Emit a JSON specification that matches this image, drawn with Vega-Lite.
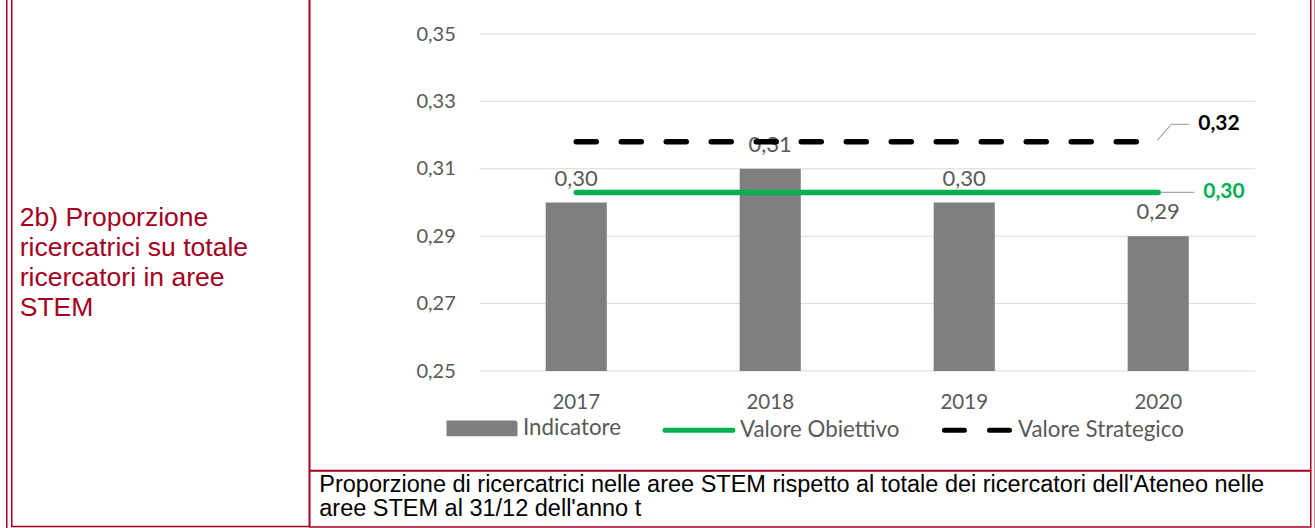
{
  "$schema": "https://vega.github.io/schema/vega-lite/v6.json",
  "padding": {"left": 6, "top": -2, "right": 0, "bottom": 0},
  "background": "white",
  "config": {
    "locale": {"number": {"decimal": ",", "thousands": ".", "grouping": [3], "currency": ["", " €"]}},
    "font": "Lato"
  },
  "datasets": {
    "bars": [
      {"year": "2017", "value": 0.30, "series": "Indicatore"},
      {"year": "2018", "value": 0.31, "series": "Indicatore"},
      {"year": "2019", "value": 0.30, "series": "Indicatore"},
      {"year": "2020", "value": 0.29, "series": "Indicatore"}
    ],
    "lines": [
      {"year": "2017", "value": 0.303, "series": "Valore Obiettivo"},
      {"year": "2018", "value": 0.303, "series": "Valore Obiettivo"},
      {"year": "2019", "value": 0.303, "series": "Valore Obiettivo"},
      {"year": "2020", "value": 0.303, "series": "Valore Obiettivo"},
      {"year": "2017", "value": 0.318, "series": "Valore Strategico"},
      {"year": "2018", "value": 0.318, "series": "Valore Strategico"},
      {"year": "2019", "value": 0.318, "series": "Valore Strategico"},
      {"year": "2020", "value": 0.318, "series": "Valore Strategico"}
    ],
    "grid": [{"g": 0.25}, {"g": 0.27}, {"g": 0.29}, {"g": 0.31}, {"g": 0.33}, {"g": 0.35}]
  },
  "bounds": "full",
  "spacing": 2.75,
  "hconcat": [
    {
      "width": 1.5,
      "height": 545,
      "view": {"fill": "#A50021", "stroke": null},
      "data": {"values": [{"t": ""}]},
      "mark": {"type": "text"},
      "encoding": {"text": {"field": "t"}}
    },
    {
      "bounds": "flush",
      "spacing": 0,
      "hconcat": [
        {
          "width": 297.5,
          "height": 527.5,
          "view": {"stroke": "#A50021", "strokeWidth": 1.5, "fill": "white"},
          "data": {"values": [{"k": "a", "t": "2b) Proporzione\nricercatrici su totale\nricercatori in aree\nSTEM"}]},
          "mark": {"type": "text", "lineBreak": "\n", "align": "left", "baseline": "middle", "dy": -45, "font": "Liberation Sans", "fontSize": 26.5, "lineHeight": 30, "color": "#A50021"},
          "encoding": {
            "x": {"field": "k", "type": "nominal", "axis": null, "bandPosition": 0, "scale": {"type": "band", "paddingOuter": 0.0284, "paddingInner": 0}},
            "text": {"field": "t"}
          }
        },
        {
          "bounds": "flush",
          "spacing": 0,
          "vconcat": [
            {
              "width": 1001,
              "height": 471.5,
              "view": {"stroke": "#A50021", "strokeWidth": 1.5, "fill": "white"},
              "layer": [
                {
                  "data": {"name": "grid"},
                  "mark": {"type": "rule", "color": "#D9D9D9", "strokeWidth": 1},
                  "encoding": {
                    "y": {"field": "g", "type": "quantitative"},
                    "x": {"datum": "2017", "type": "ordinal", "bandPosition": 0},
                    "x2": {"datum": "2020", "bandPosition": 1}
                  }
                },
                {
                  "data": {"name": "bars"},
                  "mark": {"type": "bar", "width": {"band": 0.315}},
                  "encoding": {
                    "x": {
                      "field": "year", "type": "ordinal",
                      "scale": {"type": "band", "domain": ["2017", "2018", "2019", "2020"], "paddingInner": 0, "paddingOuter": 0.5799, "align": 0.7533},
                      "axis": {"title": null, "offset": -99.5, "domain": false, "ticks": false, "labelPadding": 31, "labelAngle": 0, "labelAlign": "center", "labelFont": "Lato", "labelFontSize": 20.5, "labelColor": "#595959"}
                    },
                    "y": {
                      "field": "value", "type": "quantitative",
                      "scale": {"domain": [0.220475, 0.360386], "nice": false, "zero": false},
                      "axis": {"title": null, "values": [0.25, 0.27, 0.29, 0.31, 0.33, 0.35], "format": ".2f", "offset": -169.5, "domain": false, "ticks": false, "grid": false, "labelPadding": 24, "labelFont": "Lato", "labelFontSize": 20, "labelColor": "#595959"}
                    },
                    "y2": {"datum": 0.25},
                    "color": {
                      "field": "series", "type": "nominal",
                      "scale": {"domain": ["Indicatore", "Valore Obiettivo", "Valore Strategico"], "range": ["#7F7F7F", "#00B050", "#000000"]},
                      "legend": {
                        "orient": "none", "legendX": 441, "legendY": 394, "direction": "horizontal", "title": null,
                        "labelFont": "Lato", "labelFontSize": 22.3, "labelColor": "#595959", "labelLimit": 400,
                        "symbolSize": 5329, "labelOffset": 6, "columnPadding": 34,
                        "encode": {
                          "symbols": {
                            "update": {
                              "shape": {"signal": "datum.value === 'Indicatore' ? 'M-1,-0.16H1V0.16H-1Z' : 'M-1,0H1'"},
                              "size": {"signal": "datum.value === 'Indicatore' ? 4356 : (datum.value === 'Valore Obiettivo' ? 4624 : 4225)"},
                              "fill": {"signal": "datum.value === 'Indicatore' ? '#7F7F7F' : 'transparent'"},
                              "stroke": {"signal": "datum.value === 'Indicatore' ? 'transparent' : (datum.value === 'Valore Obiettivo' ? '#00B050' : '#000000')"},
                              "strokeWidth": {"value": 5},
                              "strokeCap": {"value": "round"},
                              "strokeDash": {"signal": "datum.value === 'Valore Strategico' ? [20, 25] : [1, 0]"},
                              "opacity": {"value": 1}
                            }
                          }
                        }
                      }
                    }
                  }
                },
                {
                  "data": {"name": "bars"},
                  "mark": {"type": "text", "baseline": "alphabetic", "dy": -17, "font": "Lato", "fontSize": 22, "color": "#595959"},
                  "encoding": {
                    "x": {"field": "year", "type": "ordinal"},
                    "y": {"field": "value", "type": "quantitative"},
                    "text": {"field": "value", "type": "quantitative", "format": ".2f"}
                  }
                },
                {
                  "data": {"name": "lines"},
                  "transform": [{"filter": "datum.series === 'Valore Obiettivo'"}],
                  "mark": {"type": "line", "strokeWidth": 5.5, "strokeCap": "round"},
                  "encoding": {
                    "x": {"field": "year", "type": "ordinal"},
                    "y": {"field": "value", "type": "quantitative"},
                    "color": {"field": "series", "type": "nominal"}
                  }
                },
                {
                  "data": {"name": "lines"},
                  "transform": [{"filter": "datum.series === 'Valore Strategico'"}],
                  "mark": {"type": "line", "strokeWidth": 5.5, "strokeCap": "round", "strokeDash": [20, 25]},
                  "encoding": {
                    "x": {"field": "year", "type": "ordinal"},
                    "y": {"field": "value", "type": "quantitative"},
                    "color": {"field": "series", "type": "nominal"}
                  }
                },
                {
                  "data": {"name": "lines"},
                  "transform": [{"filter": "datum.series === 'Valore Obiettivo' && datum.year === '2020'"}],
                  "mark": {"type": "rule", "color": "#A6A6A6", "strokeWidth": 1.2, "xOffset": 2, "x2Offset": 36},
                  "encoding": {
                    "x": {"field": "year", "type": "ordinal"},
                    "x2": {"field": "year"},
                    "y": {"field": "value", "type": "quantitative"}
                  }
                },
                {
                  "data": {"name": "lines"},
                  "transform": [{"filter": "datum.series === 'Valore Strategico' && datum.year === '2020'"}],
                  "mark": {"type": "rule", "color": "#A6A6A6", "strokeWidth": 1.2, "xOffset": -1, "x2Offset": 13, "yOffset": -1.5, "y2Offset": -17.5},
                  "encoding": {
                    "x": {"field": "year", "type": "ordinal"},
                    "x2": {"field": "year"},
                    "y": {"field": "value", "type": "quantitative"},
                    "y2": {"field": "value"}
                  }
                },
                {
                  "data": {"name": "lines"},
                  "transform": [{"filter": "datum.series === 'Valore Strategico' && datum.year === '2020'"}],
                  "mark": {"type": "rule", "color": "#A6A6A6", "strokeWidth": 1.2, "xOffset": 13, "x2Offset": 31, "yOffset": -17.5},
                  "encoding": {
                    "x": {"field": "year", "type": "ordinal"},
                    "x2": {"field": "year"},
                    "y": {"field": "value", "type": "quantitative"}
                  }
                },
                {
                  "data": {"name": "lines"},
                  "transform": [{"filter": "datum.series === 'Valore Obiettivo' && datum.year === '2020'"}],
                  "mark": {"type": "text", "align": "left", "baseline": "middle", "dx": 45, "font": "Lato", "fontSize": 21, "fontWeight": "bold", "color": "#00B050"},
                  "encoding": {
                    "x": {"field": "year", "type": "ordinal"},
                    "y": {"field": "value", "type": "quantitative"},
                    "text": {"field": "value", "type": "quantitative", "format": ".2f"}
                  }
                },
                {
                  "data": {"name": "lines"},
                  "transform": [{"filter": "datum.series === 'Valore Strategico' && datum.year === '2020'"}],
                  "mark": {"type": "text", "align": "left", "baseline": "middle", "dx": 40, "dy": -18, "font": "Lato", "fontSize": 21, "fontWeight": "bold", "color": "#000000"},
                  "encoding": {
                    "x": {"field": "year", "type": "ordinal"},
                    "y": {"field": "value", "type": "quantitative"},
                    "text": {"field": "value", "type": "quantitative", "format": ".2f"}
                  }
                }
              ]
            },
            {
              "width": 1001,
              "height": 56,
              "view": {"stroke": "#A50021", "strokeWidth": 1.5, "fill": "white"},
              "data": {"values": [{"k": "a", "t": "Proporzione di ricercatrici nelle aree STEM rispetto al totale dei ricercatori dell'Ateneo nelle\naree STEM al 31/12 dell'anno t"}]},
              "mark": {"type": "text", "lineBreak": "\n", "align": "left", "baseline": "middle", "dy": -14.5, "font": "Liberation Sans", "fontSize": 23.5, "lineHeight": 24.5, "color": "#000000"},
              "encoding": {
                "x": {"field": "k", "type": "nominal", "axis": null, "bandPosition": 0, "scale": {"type": "band", "paddingOuter": 0.00967, "paddingInner": 0}},
                "text": {"field": "t"}
              }
            }
          ]
        }
      ]
    },
    {
      "width": 1.5,
      "height": 545,
      "view": {"fill": "#A50021", "stroke": null},
      "data": {"values": [{"t": ""}]},
      "mark": {"type": "text"},
      "encoding": {"text": {"field": "t"}}
    }
  ]
}
